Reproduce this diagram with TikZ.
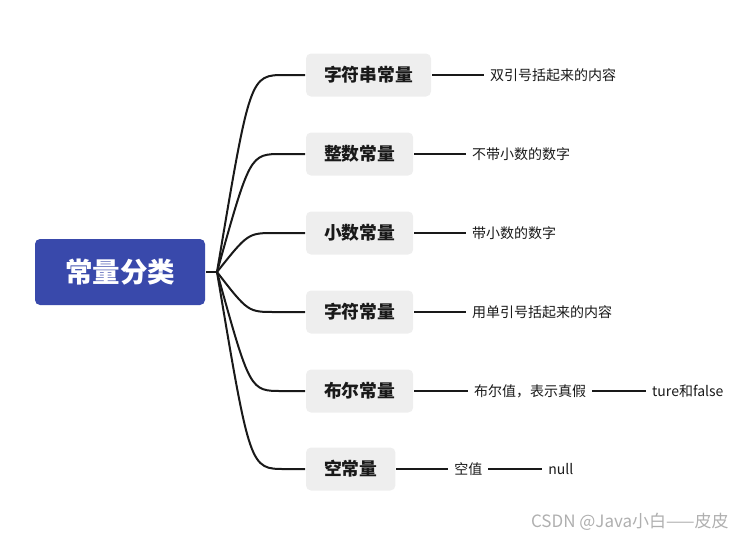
\documentclass[tikz,border=0pt]{standalone}
\usepackage{fontspec}
\setmainfont{Noto Sans CJK SC}
\usetikzlibrary{positioning}
\definecolor{rootblue}{RGB}{57,73,171}
\definecolor{kindgray}{RGB}{238,238,238}
\definecolor{markgray}{RGB}{175,175,175}
\tikzset{
  rootbox/.style={fill=rootblue, rounded corners=5pt, text=white,
    font=\bfseries\fontsize{27.5}{32}\selectfont,
    minimum width=170pt, minimum height=66pt},
  kindbox/.style={fill=kindgray, rounded corners=5pt, anchor=west,
    font=\bfseries\fontsize{17.8}{20}\selectfont,
    inner xsep=18pt, minimum height=43pt},
  note/.style={font=\fontsize{14}{16}\selectfont, inner xsep=5pt, inner ysep=0pt}
}
\begin{document}
\begin{tikzpicture}[x=1pt, y=-1pt, line width=2pt, color={black!90}]
  \useasboundingbox (0,0) rectangle (746,541);
  % root and branching point
  \node[rootbox] (root) at (120,272) {常量分类};
  \coordinate (hub) at (217,272);
  \draw (root.east) -- (hub);
  % kinds of constants
  \node[kindbox] (kstr) at (305,75) {字符串常量};
  \node[kindbox] (kint) at (305,154) {整数常量};
  \node[kindbox] (kdec) at (305,233) {小数常量};
  \node[kindbox] (kchr) at (305,312) {字符常量};
  \node[kindbox] (kbool) at (305,391) {布尔常量};
  \node[kindbox] (knull) at (305,469) {空常量};
  % curved branches
  \draw (hub) .. controls (250,75) .. (285,75) -- (kstr.west);
  \draw (hub) .. controls (250,154) .. (282,154) -- (kint.west);
  \draw (hub) .. controls (248,233) .. (275,233) -- (kdec.west);
  \draw (hub) .. controls (248,312) .. (275,312) -- (kchr.west);
  \draw (hub) .. controls (250,391) .. (282,391) -- (kbool.west);
  \draw (hub) .. controls (250,469) .. (285,469) -- (knull.west);
  % notes
  \node[note, right=52pt of kstr] (nstr) {双引号括起来的内容};
  \node[note, right=52pt of kint] (nint) {不带小数的数字};
  \node[note, right=52pt of kdec] (ndec) {带小数的数字};
  \node[note, right=52pt of kchr] (nchr) {用单引号括起来的内容};
  \node[note, right=54pt of kbool] (nbool) {布尔值，表示真假};
  \node[note, right=54pt of nbool] (nval) {ture和false};
  \node[note, right=52pt of knull] (nnull) {空值};
  \node[note, right=54pt of nnull] (nkey) {null};
  \draw (kstr.east) -- (nstr.west);
  \draw (kint.east) -- (nint.west);
  \draw (kdec.east) -- (ndec.west);
  \draw (kchr.east) -- (nchr.west);
  \draw (kbool.east) -- (nbool.west);
  \draw (nbool.east) -- (nval.west);
  \draw (knull.east) -- (nnull.west);
  \draw (nnull.east) -- (nkey.west);
  % watermark
  \node[anchor=east, text=markgray, font=\fontsize{17}{20}\selectfont] (mark) at (733,522) {CSDN @Java小白——皮皮};
\end{tikzpicture}
\end{document}
